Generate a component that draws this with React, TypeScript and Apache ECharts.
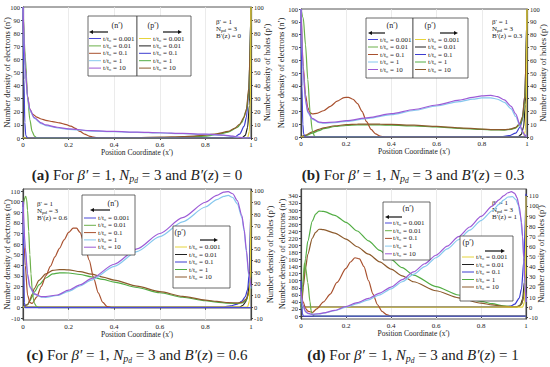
import React, { useEffect, useRef } from 'react';
import * as echarts from 'echarts';

const F = 'Liberation Serif';
const TIME_LABELS = ['t/t₀ = 0.001', 't/t₀ = 0.01', 't/t₀ = 0.1', 't/t₀ = 1', 't/t₀ = 10'];
const N_COLORS = ['#4848d8', '#6cb04a', '#a8502e', '#86c8ee', '#9c5ad6'];
const P_COLORS = ['#e6d43c', '#202020', '#3c3cd0', '#52ad44', '#8c5a2c'];
const X_TICKS = [0, 0.2, 0.4, 0.6, 0.8, 1];
const B_VALUES = ['0', '0.3', '0.6', '1'];
const PANEL_LETTERS = ['a', 'b', 'c', 'd'];

// y tick labels
const A_LEFT_TICKS = [0, 10, 20, 30, 40, 50, 60, 70, 80, 90, 100];
const A_RIGHT_TICKS = [0, 10, 20, 30, 40, 50, 60, 70, 80, 90, 100];
const B_LEFT_TICKS = [0, 10, 20, 30, 40, 50, 60, 70, 80, 90, 100];
const B_RIGHT_TICKS = [0, 10, 20, 30, 40, 50, 60, 70, 80, 90, 100];
const C_LEFT_TICKS = [-10, 0, 10, 20, 30, 40, 50, 60, 70, 80, 90, 100, 110];
const C_RIGHT_TICKS = [-10, 0, 10, 20, 30, 40, 50, 60, 70, 80, 90, 100];
const D_LEFT_TICKS = [0, 20, 40, 60, 80, 100, 120, 140, 160, 180, 200, 220, 240, 260, 280, 300, 320, 340];
const D_RIGHT_TICKS = [-10, 0, 10, 20, 30, 40, 50, 60, 70, 80, 90, 100, 110];

// ---------- panel (a): B'(z) = 0 ----------
const aN0001 = [[0, 100], [0.004, 45], [0.008, 12], [0.012, 2], [0.02, 0], [1, 0]];
const aN001 = [[0, 100], [0.01, 62], [0.02, 32], [0.03, 14], [0.04, 5], [0.05, 1.5], [0.06, 0], [1, 0]];
const aN01 = [[0, 100], [0.01, 55], [0.02, 32], [0.03, 22], [0.04, 18.5], [0.06, 16], [0.08, 14.5], [0.1, 13.5], [0.13, 12.5], [0.16, 11.5], [0.19, 10.2], [0.21, 9], [0.23, 7.3], [0.25, 5], [0.27, 3], [0.29, 1.5], [0.31, 0.6], [0.33, 0], [1, 0]];
const aN1 = [[0, 100], [0.01, 52], [0.02, 30], [0.03, 21], [0.05, 15], [0.08, 11], [0.1, 9.5], [0.15, 7.8], [0.2, 6.6], [0.3, 5.3], [0.4, 4.8], [0.5, 4.3], [0.6, 3.8], [0.7, 3.3], [0.8, 2.7], [0.88, 2], [0.92, 1.2], [0.95, 0.4], [0.97, 0], [1, 0]];
const aN10 = [[0, 100], [0.01, 54], [0.02, 31], [0.03, 22], [0.05, 15.5], [0.08, 11.5], [0.1, 10], [0.15, 8.2], [0.2, 7], [0.3, 5.6], [0.4, 5], [0.5, 4.5], [0.6, 4], [0.7, 3.5], [0.8, 2.9], [0.88, 2.2], [0.92, 1.4], [0.95, 0.5], [0.97, 0], [1, 0]];
const aP0001 = [[0, 0], [0.985, 0], [0.993, 5], [0.997, 30], [1, 100]];
const aP001 = [[0, 0], [0.96, 0], [0.975, 2], [0.985, 8], [0.993, 25], [1, 100]];
const aP01 = [[0, 0], [0.9, 0], [0.93, 1], [0.95, 3], [0.97, 9], [0.98, 16], [0.99, 35], [1, 100]];
const aP1 = [[0, 0], [0.6, 0], [0.7, 0.5], [0.8, 1.5], [0.86, 3], [0.9, 4.5], [0.94, 8], [0.96, 12], [0.98, 21], [0.99, 35], [1, 100]];
const aP10 = [[0, 0], [0.5, 0.3], [0.6, 0.6], [0.7, 1], [0.75, 1.5], [0.8, 2.2], [0.85, 3.2], [0.9, 5], [0.93, 7.5], [0.95, 10.5], [0.97, 16], [0.98, 22], [0.99, 38], [1, 100]];

// ---------- panel (b): B'(z) = 0.3 ----------
const bN0001 = [[0, 100], [0.004, 40], [0.008, 10], [0.012, 2], [0.02, 0], [1, 0]];
const bN001 = [[0, 100], [0.01, 93], [0.02, 72], [0.03, 45], [0.04, 20], [0.05, 5], [0.06, 0.5], [0.07, 0], [1, 0]];
const bN01 = [[0, 100], [0.01, 55], [0.02, 33], [0.03, 23], [0.04, 19], [0.05, 18], [0.07, 18.5], [0.1, 20.5], [0.13, 24], [0.16, 28], [0.19, 30.8], [0.21, 31], [0.23, 29.5], [0.25, 26], [0.27, 20], [0.29, 12], [0.31, 6], [0.33, 2.5], [0.35, 0.8], [0.37, 0], [1, 0]];
const bN1 = [[0, 100], [0.01, 50], [0.02, 28], [0.03, 19], [0.05, 14], [0.08, 11.2], [0.1, 10.8], [0.15, 11.2], [0.2, 12.2], [0.3, 14.6], [0.4, 17.5], [0.5, 20.7], [0.6, 24.2], [0.7, 27.7], [0.76, 29.6], [0.8, 30.5], [0.84, 30.6], [0.87, 29.5], [0.9, 27], [0.93, 22], [0.95, 16], [0.97, 8], [0.98, 4], [0.99, 1.5], [1, 0.5]];
const bN10 = [[0, 100], [0.01, 52], [0.02, 29], [0.03, 20], [0.05, 14.5], [0.08, 11.6], [0.1, 11.2], [0.15, 11.7], [0.2, 12.8], [0.3, 15.2], [0.4, 18.2], [0.5, 21.5], [0.6, 25], [0.7, 28.8], [0.76, 31], [0.8, 32.2], [0.84, 32.5], [0.87, 31.5], [0.9, 29], [0.93, 24], [0.95, 18], [0.97, 9], [0.98, 4.5], [0.99, 1.5], [1, 0.5]];
const bP0001 = [[0, 0], [0.985, 0], [0.993, 5], [0.997, 30], [1, 100]];
const bP001 = [[0, 0], [0.96, 0], [0.975, 2], [0.985, 8], [0.993, 25], [1, 100]];
const bP01 = [[0, 0], [0.88, 0], [0.92, 1], [0.95, 3], [0.97, 8], [0.98, 14], [0.99, 32], [1, 100]];
const bP1 = [[0, 0], [0.02, 1], [0.05, 3], [0.08, 5], [0.1, 6.5], [0.15, 8.2], [0.2, 9], [0.25, 9.4], [0.3, 9.5], [0.35, 9.4], [0.4, 9.2], [0.5, 8.6], [0.6, 7.8], [0.7, 6.8], [0.8, 5.9], [0.85, 5.5], [0.9, 5.4], [0.93, 6], [0.95, 7], [0.97, 10], [0.98, 14], [0.99, 28], [1, 100]];
const bP10 = [[0, 0], [0.02, 1.5], [0.05, 4], [0.08, 6], [0.1, 7.2], [0.15, 8.8], [0.2, 9.6], [0.25, 10], [0.3, 10.1], [0.35, 10], [0.4, 9.8], [0.5, 9.2], [0.6, 8.3], [0.7, 7.2], [0.8, 6.2], [0.85, 5.8], [0.9, 5.7], [0.93, 6.3], [0.95, 7.5], [0.97, 11], [0.98, 16], [0.99, 32], [1, 100]];

// ---------- panel (c): B'(z) = 0.6 ----------
const cN0001 = [[0, 100], [0.003, 40], [0.006, 5], [0.01, 0], [1, 0]];
const cN001 = [[0, 92], [0.004, 100], [0.008, 104], [0.012, 105], [0.016, 102], [0.02, 92], [0.025, 72], [0.03, 50], [0.035, 32], [0.04, 18], [0.045, 9], [0.05, 4], [0.06, 1], [0.07, 0], [1, 0]];
const cN01 = [[0, 90], [0.01, 40], [0.02, 12], [0.03, 5], [0.04, 4], [0.06, 10], [0.08, 20], [0.1, 30], [0.12, 39], [0.14, 48], [0.16, 56], [0.18, 64], [0.2, 71], [0.22, 75], [0.235, 75], [0.25, 71], [0.27, 60], [0.29, 45], [0.31, 28], [0.33, 14], [0.35, 5], [0.37, 1], [0.39, 0], [1, 0]];
const cN1 = [[0, 95], [0.01, 55], [0.02, 30], [0.03, 19], [0.05, 12.5], [0.08, 10], [0.1, 9.8], [0.15, 11.5], [0.2, 15.5], [0.25, 20.5], [0.3, 26], [0.4, 39], [0.5, 53], [0.6, 67], [0.7, 81], [0.8, 95], [0.85, 102], [0.88, 105], [0.9, 106], [0.92, 104], [0.94, 98], [0.96, 85], [0.97, 72], [0.98, 52], [0.99, 30], [1, 18]];
const cN10 = [[0, 100], [0.01, 57], [0.02, 32], [0.03, 20], [0.05, 13], [0.08, 10.5], [0.1, 10.5], [0.15, 12], [0.2, 16.5], [0.25, 21.5], [0.3, 27.5], [0.4, 41], [0.5, 55.5], [0.6, 70], [0.7, 85], [0.8, 99.5], [0.85, 106], [0.88, 109], [0.9, 109.5], [0.92, 107.5], [0.94, 101], [0.96, 87], [0.97, 74], [0.98, 54], [0.99, 32], [1, 20]];
const cP0001 = [[0, 0], [0.985, 0], [0.993, 5], [0.997, 30], [1, 100]];
const cP001 = [[0, 0], [0.95, 0], [0.965, 1.5], [0.975, 4], [0.985, 9], [0.993, 20], [1, 100]];
const cP01 = [[0, 0], [0.88, 0], [0.91, 1], [0.94, 2.5], [0.96, 5], [0.975, 9], [0.985, 15], [0.993, 30], [1, 100]];
const cP1 = [[0, 0], [0.02, 2], [0.03, 5], [0.04, 9], [0.05, 13], [0.07, 19], [0.1, 25], [0.13, 28.5], [0.16, 29.5], [0.2, 29.3], [0.25, 28], [0.3, 26], [0.35, 23.8], [0.4, 21.5], [0.5, 16.8], [0.6, 12.3], [0.7, 8.4], [0.8, 5.4], [0.85, 4.2], [0.9, 3.3], [0.94, 3], [0.96, 3.5], [0.98, 6], [0.99, 12], [1, 30]];
const cP10 = [[0, 0], [0.02, 2], [0.03, 6], [0.04, 11], [0.05, 16], [0.07, 23], [0.1, 28.5], [0.13, 31.5], [0.16, 32.3], [0.2, 32], [0.25, 30.5], [0.3, 28.3], [0.35, 25.8], [0.4, 23.2], [0.5, 18], [0.6, 13.2], [0.7, 9.2], [0.8, 6], [0.85, 4.8], [0.9, 3.8], [0.94, 3.5], [0.96, 4], [0.98, 7], [0.99, 13], [1, 32]];

// ---------- panel (d): B'(z) = 1 ----------
const dN0001 = [[0, 100], [0.003, 40], [0.006, 8], [0.01, 0], [1, 0]];
const dN001 = [[0, 20], [0.008, 90], [0.015, 150], [0.02, 140], [0.03, 95], [0.04, 40], [0.045, 15], [0.05, 4], [0.06, 0], [1, 0]];
const dN01 = [[0, 80], [0.01, 40], [0.02, 22], [0.03, 14], [0.05, 10], [0.07, 20], [0.1, 40], [0.13, 62], [0.16, 95], [0.2, 135], [0.22, 153], [0.24, 165], [0.26, 162], [0.28, 140], [0.3, 100], [0.32, 62], [0.34, 32], [0.36, 13], [0.38, 4], [0.4, 0], [1, 0]];
const dN1 = [[0, 60], [0.01, 25], [0.02, 12], [0.03, 7], [0.05, 4.5], [0.08, 6], [0.1, 8], [0.15, 15], [0.2, 25], [0.25, 35], [0.3, 46], [0.35, 60], [0.4, 77], [0.45, 97], [0.5, 118], [0.55, 140], [0.6, 165], [0.65, 190], [0.7, 216], [0.75, 243], [0.8, 270], [0.85, 298], [0.88, 316], [0.9, 328], [0.92, 337], [0.94, 338], [0.955, 330], [0.965, 315], [0.975, 285], [0.985, 220], [0.99, 160], [0.995, 90], [1, 40]];
const dN10 = [[0, 70], [0.01, 30], [0.02, 13], [0.03, 8], [0.05, 5], [0.08, 6.5], [0.1, 9], [0.15, 16], [0.2, 27], [0.25, 38], [0.3, 50], [0.35, 65], [0.4, 82], [0.45, 103], [0.5, 125], [0.55, 148], [0.6, 172], [0.65, 198], [0.7, 225], [0.75, 252], [0.8, 282], [0.85, 311], [0.88, 329], [0.9, 340], [0.92, 349], [0.935, 352], [0.95, 347], [0.96, 335], [0.97, 310], [0.98, 265], [0.985, 225], [0.99, 165], [0.995, 95], [1, 40]];
const dP0001 = [[0, 0], [0.985, 0], [0.993, 5], [0.997, 30], [1, 110]];
const dP001 = [[0, 0], [0.96, 0], [0.975, 2], [0.985, 8], [0.993, 25], [1, 110]];
const dP01 = [[0, 0], [0.9, 0], [0.93, 1], [0.95, 3], [0.97, 9], [0.98, 18], [0.99, 45], [1, 112]];
const dP1 = [[0, 0], [0.005, 10], [0.01, 25], [0.02, 48], [0.03, 65], [0.05, 85], [0.065, 92], [0.08, 95], [0.1, 94.6], [0.15, 90.8], [0.2, 83.9], [0.25, 75.3], [0.3, 65.6], [0.35, 56.2], [0.4, 47.2], [0.45, 39], [0.5, 31.7], [0.6, 20.3], [0.7, 12], [0.8, 5.8], [0.85, 3.4], [0.9, 1.2], [0.95, 0.3], [0.97, 1], [0.98, 3], [0.99, 10], [1, 40]];
const dP10 = [[0, 0], [0.005, 8], [0.01, 20], [0.02, 38], [0.03, 52], [0.05, 68], [0.065, 74], [0.08, 77], [0.1, 76.6], [0.15, 73.2], [0.2, 67.3], [0.25, 59.7], [0.3, 52.4], [0.35, 44.8], [0.4, 37.6], [0.45, 31], [0.5, 25.1], [0.6, 16.2], [0.7, 9.2], [0.8, 4], [0.85, 2.2], [0.9, 0.8], [0.95, 0.2], [0.97, 1], [0.98, 3], [0.99, 10], [1, 40]];

const N_DATA = [
  [aN0001, aN001, aN01, aN1, aN10],
  [bN0001, bN001, bN01, bN1, bN10],
  [cN0001, cN001, cN01, cN1, cN10],
  [dN0001, dN001, dN01, dN1, dN10],
];
const P_DATA = [
  [aP0001, aP001, aP01, aP1, aP10],
  [bP0001, bP001, bP01, bP1, bP10],
  [cP0001, cP001, cP01, cP1, cP10],
  [dP0001, dP001, dP01, dP1, dP10],
];
const LEFT_TICKS = [A_LEFT_TICKS, B_LEFT_TICKS, C_LEFT_TICKS, D_LEFT_TICKS];
const RIGHT_TICKS = [A_RIGHT_TICKS, B_RIGHT_TICKS, C_RIGHT_TICKS, D_RIGHT_TICKS];

// ---------- layout ----------
const GRIDS = [
  { left: 23, top: 7, width: 228, height: 131 },
  { left: 301, top: 9, width: 226, height: 128 },
  { left: 23, top: 189, width: 228, height: 131 },
  { left: 301, top: 189, width: 225, height: 130 },
];
const LEFT_RANGE = [[0, 100], [0, 100], [-11.6, 112], [-8.4, 359.6]];
const RIGHT_RANGE = [[0, 100], [0, 100], [-11.2, 101.7], [-11.7, 116.8]];
const LEFT_GAP = [12, 16, 12, 15];
const RIGHT_GAP = [11, 11, 14, 10];
const CAPTION_POS = [[137, 175], [413, 175], [137, 355], [413, 355]];
const NOTE_POS = [[216, 22], [492, 22], [37, 204], [492, 203]];
const LEGEND_LAYOUT = [
  {
    n: { box: [88, 16, 49, 60], title: [117, 25], arrow: [108, 89, 32], row0: 38.5, step: 7.4, sx: [89, 101], tx: 103 },
    p: { box: [137, 16, 54, 60], title: [153, 25], arrow: [163, 182, 32], row0: 38.5, step: 7.4, sx: [139, 151], tx: 153 },
  },
  {
    n: { box: [366, 18, 47, 60], title: [392, 25], arrow: [385, 368, 33], row0: 39.5, step: 7.5, sx: [368, 378], tx: 380 },
    p: { box: [413, 18, 55, 60], title: [430, 25], arrow: [440, 458, 33], row0: 39.5, step: 7.5, sx: [415, 426], tx: 428 },
  },
  {
    n: { box: [82, 195, 53, 60], title: [113, 203], arrow: [110, 90, 210], row0: 218, step: 7.3, sx: [84, 96], tx: 98 },
    p: { box: [173, 226, 57, 62], title: [180, 232], arrow: [200, 218, 240], row0: 247, step: 7.5, sx: [175, 187], tx: 189 },
  },
  {
    n: { box: [383, 202, 47, 58], title: [408, 208], arrow: [402, 385, 217], row0: 223, step: 7.7, sx: [385, 392], tx: 393 },
    p: { box: [460, 236, 53, 65], title: [468, 242], arrow: [485, 505, 251], row0: 257, step: 7.5, sx: [462, 474], tx: 476 },
  },
];

function textEl(x: number, y: number, text: string, size: number, align = 'left', rich?: any) {
  return {
    type: 'text',
    x,
    y,
    silent: true,
    style: {
      text,
      fontFamily: F,
      fontSize: size,
      fill: '#222',
      textAlign: align,
      textVerticalAlign: 'middle',
      rich,
    },
  };
}

function legendElements(cfg: any, title: string, colors: string[]) {
  const els: any[] = [];
  const [bx, by, bw, bh] = cfg.box;
  els.push({ type: 'rect', shape: { x: bx, y: by, width: bw, height: bh }, style: { fill: '#fff', stroke: '#444', lineWidth: 0.8 }, z: 10 });
  els.push({ ...textEl(cfg.title[0], cfg.title[1], title, 8, 'center'), z: 11 });
  const [a0, a1, ay] = cfg.arrow;
  const dir = a1 > a0 ? 1 : -1;
  els.push({ type: 'line', shape: { x1: a0, y1: ay, x2: a1 - dir * 3, y2: ay }, style: { stroke: '#111', lineWidth: 1.2 }, z: 11 });
  els.push({ type: 'polygon', shape: { points: [[a1, ay], [a1 - dir * 4, ay - 2], [a1 - dir * 4, ay + 2]] }, style: { fill: '#111' }, z: 11 });
  TIME_LABELS.forEach((lab, i) => {
    const y = cfg.row0 + cfg.step * i;
    els.push({ type: 'line', shape: { x1: cfg.sx[0], y1: y, x2: cfg.sx[1], y2: y }, style: { stroke: colors[i], lineWidth: 1 }, z: 11 });
    els.push({ ...textEl(cfg.tx, y, lab, 7), z: 11 });
  });
  return els;
}

const ANNOT_RICH = {
  s: { fontFamily: F, fontSize: 5, fill: '#222', verticalAlign: 'bottom', padding: [3, 0, 0, 0] },
};

const CS = 15;
const CAPTION_RICH = {
  b: { fontFamily: F, fontSize: CS, fontWeight: 'bold', fill: '#222' },
  r: { fontFamily: F, fontSize: CS, fill: '#222' },
  i: { fontFamily: F, fontSize: CS, fontStyle: 'italic', fill: '#222' },
  s: { fontFamily: F, fontSize: 10, fontStyle: 'italic', fill: '#222', padding: [7, 0, 0, 0] },
  ss: { fontFamily: F, fontSize: 7.5, fontStyle: 'italic', fill: '#222', padding: [11, 0, 0, 0] },
};

export default function App() {
  const ref = useRef<HTMLDivElement>(null);
  useEffect(() => {
    if (!ref.current) return;
    const chart = echarts.init(ref.current, undefined, { renderer: 'svg' });

    const grid: any[] = GRIDS.map((g) => ({ ...g, show: true, borderColor: '#555', borderWidth: 1, backgroundColor: 'transparent' }));
    const xAxis: any[] = GRIDS.map((_, i) => ({
      type: 'value',
      gridIndex: i,
      min: 0,
      max: 1,
      axisLabel: { customValues: X_TICKS, fontSize: 7, fontFamily: F, color: '#222', margin: 3 },
      axisTick: { customValues: X_TICKS, length: 2, lineStyle: { color: '#444' } },
      axisLine: { lineStyle: { color: '#444' } },
      splitLine: { show: true, lineStyle: { color: '#e6e6e6', width: 0.8 } },
      name: 'Position Coordinate (x′)',
      nameLocation: 'middle',
      nameGap: 10,
      nameMoveOverlap: false,
      nameTextStyle: { fontSize: 7.5, fontFamily: F, color: '#222' },
    }));
    const yAxis: any[] = [];
    GRIDS.forEach((_, i) => {
      yAxis.push({
        type: 'value',
        gridIndex: i,
        position: 'left',
        min: LEFT_RANGE[i][0],
        max: LEFT_RANGE[i][1],
        axisLabel: { customValues: LEFT_TICKS[i], fontSize: 6.5, fontFamily: F, color: '#222', margin: 3 },
        axisTick: { customValues: LEFT_TICKS[i], length: 2, lineStyle: { color: '#444' } },
        axisLine: { show: true, lineStyle: { color: '#444', width: 1.2 } },
        splitLine: { show: false },
        name: 'Number density of electrons (n′)',
        nameLocation: 'middle',
        nameGap: LEFT_GAP[i],
        nameMoveOverlap: false,
        nameTextStyle: { fontSize: 8.5, fontFamily: F, color: '#222' },
      });
      yAxis.push({
        type: 'value',
        gridIndex: i,
        position: 'right',
        min: RIGHT_RANGE[i][0],
        max: RIGHT_RANGE[i][1],
        axisLabel: { customValues: RIGHT_TICKS[i], fontSize: 6.5, fontFamily: F, color: '#222', margin: 3 },
        axisTick: { customValues: RIGHT_TICKS[i], length: 2, lineStyle: { color: '#444' } },
        axisLine: { show: true, lineStyle: { color: '#444', width: 1.2 } },
        splitLine: { show: false },
        name: 'Number density of holes (p′)',
        nameLocation: 'middle',
        nameGap: RIGHT_GAP[i],
        nameMoveOverlap: false,
        nameTextStyle: { fontSize: 8.5, fontFamily: F, color: '#222' },
      });
    });

    const series: any[] = [];
    const nOrder = [2, 1, 0, 3, 4];
    const pOrder = [1, 2, 3, 4, 0];
    GRIDS.forEach((_, i) => {
      pOrder.forEach((k) => {
        series.push({
          type: 'line',
          name: `${PANEL_LETTERS[i]} p′ ${TIME_LABELS[k]}`,
          xAxisIndex: i,
          yAxisIndex: i * 2 + 1,
          data: P_DATA[i][k],
          showSymbol: false,
          symbol: 'none',
          smooth: 0.25,
          smoothMonotone: 'x',
          lineStyle: { color: P_COLORS[k], width: 1.2 },
          itemStyle: { color: P_COLORS[k] },
        });
      });
      nOrder.forEach((k) => {
        series.push({
          type: 'line',
          name: `${PANEL_LETTERS[i]} n′ ${TIME_LABELS[k]}`,
          xAxisIndex: i,
          yAxisIndex: i * 2,
          data: N_DATA[i][k],
          showSymbol: false,
          symbol: 'none',
          smooth: 0.25,
          smoothMonotone: 'x',
          lineStyle: { color: N_COLORS[k], width: 1.2 },
          itemStyle: { color: N_COLORS[k] },
        });
      });
    });

    const elements: any[] = [];
    GRIDS.forEach((_, i) => {
      elements.push(...legendElements(LEGEND_LAYOUT[i].n, '(n′)', N_COLORS));
      elements.push(...legendElements(LEGEND_LAYOUT[i].p, '(p′)', P_COLORS));
      const [nx, ny] = NOTE_POS[i];
      elements.push(textEl(nx, ny, 'β′ = 1', 7));
      elements.push(textEl(nx, ny + 7, 'N{s|pd} = 3', 7, 'left', ANNOT_RICH));
      elements.push(textEl(nx, ny + 14, `B′(z) = ${B_VALUES[i]}`, 7));
      const [cx, cy] = CAPTION_POS[i];
      elements.push(
        textEl(
          cx,
          cy,
          `{b|(${PANEL_LETTERS[i]})}{r| For }{i|β′}{r| = 1, }{i|N}{s|p}{ss|d}{r| = 3 and }{i|B′}{r|(}{i|z}{r|) = ${B_VALUES[i]}}`,
          CS,
          'center',
          CAPTION_RICH
        )
      );
    });

    chart.setOption({
      animation: false,
      backgroundColor: '#fff',
      grid,
      xAxis,
      yAxis,
      series,
      graphic: { elements },
    });
    return () => chart.dispose();
  }, []);
  return <div ref={ref} style={{ position: 'fixed', left: 0, top: 0, width: 550, height: 367 }} />;
}
